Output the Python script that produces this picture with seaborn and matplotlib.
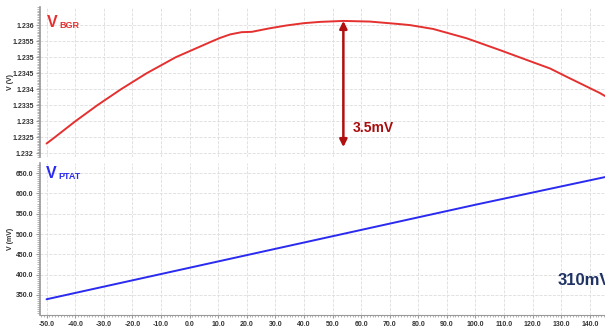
import numpy as np
import pandas as pd
import seaborn as sns
import matplotlib.pyplot as plt
from matplotlib.ticker import MultipleLocator, FormatStrFormatter

# temperature sweep (degC) and values
temp_bgr = [-50, -47.2, -40.0, -32.3, -24.0, -15.0, -4.8, 8.0, 10.66, 14.2, 18.25, 21.75,
            28, 34.0, 40, 45.6, 53.8, 63.1, 73.6, 77.1, 85.2, 96.9, 108.6, 120.2,
            126.05, 131.9, 143.6, 145.3]
v_bgr = [1.23231, 1.2325, 1.2330, 1.2335, 1.2340, 1.2345, 1.2350, 1.2355, 1.23560, 1.23571,
         1.23578, 1.23579, 1.23590, 1.23599, 1.23606, 1.23610, 1.23613, 1.23611, 1.23603,
         1.23600, 1.23588, 1.23559, 1.23522, 1.23484, 1.23465, 1.23439, 1.23388, 1.23379]

temp_ptat = [-50, 0, 50, 100, 145.3]
v_ptat = [339.5, 417.0, 494.5, 572.0, 640.0]

x_ticks = np.arange(-50, 141, 10)
bgr_ticks = [1.232, 1.2325, 1.233, 1.2335, 1.234, 1.2345, 1.235, 1.2355, 1.236]
ptat_ticks = [350, 400, 450, 500, 550, 600, 650]

sns.set_style("white")
plt.rcParams['font.family'] = ['Liberation Sans', 'DejaVu Sans']

fig = plt.figure(figsize=(6.05, 3.27), dpi=100)
ax1 = fig.add_axes([0.0661, 0.5199, 0.9339, 0.4587])
ax2 = fig.add_axes([0.0661, 0.0367, 0.9339, 0.4648])

bgr_df = pd.DataFrame({'T': temp_bgr, 'V': v_bgr})
ptat_df = pd.DataFrame({'T': temp_ptat, 'V': v_ptat})
sns.lineplot(data=bgr_df, x='T', y='V', ax=ax1, color='#e53030', lw=1.4)
sns.lineplot(data=ptat_df, x='T', y='V', ax=ax2, color='#2a2af0', lw=1.4)

for ax in (ax1, ax2):
    ax.set_xlim(-52.3, 145.3)
    ax.set_xticks(x_ticks)
    ax.grid(True, color='#dddddd', ls='--', lw=0.6)
    for s in ('top', 'right', 'bottom'):
        ax.spines[s].set_visible(False)
    ax.spines['left'].set_color('#999999')
    ax.spines['left'].set_linewidth(1.2)
    ax.tick_params(axis='both', which='major', labelsize=5, labelcolor='#333333',
                   length=3, width=0.8, color='#999999', left=True, pad=1.5)
    ax.tick_params(axis='both', which='minor', length=2, width=0.5, color='#999999', left=True)
    ax.set_xlabel('')

ax1.set_ylim(1.231891, 1.236564)
ax1.set_yticks(bgr_ticks)
ax1.set_yticklabels(['%g' % t for t in bgr_ticks])
ax1.yaxis.set_minor_locator(MultipleLocator(0.00005))
ax1.tick_params(axis='x', labelbottom=False, bottom=False)
ax1.set_ylabel('V (V)', fontsize=5, fontweight='bold', color='#333333')
ax1.yaxis.set_label_coords(-0.046, 0.5)

ax2.set_ylim(300.8, 674.6)
ax2.set_yticks(ptat_ticks)
ax2.yaxis.set_major_formatter(FormatStrFormatter('%.1f'))
ax2.yaxis.set_minor_locator(MultipleLocator(5))
ax2.xaxis.set_major_formatter(FormatStrFormatter('%.1f'))
ax2.xaxis.set_minor_locator(MultipleLocator(1))
ax2.tick_params(axis='x', bottom=True, which='major', length=2.5)
ax2.tick_params(axis='x', bottom=True, which='minor', length=1.5)
ax2.spines['bottom'].set_visible(True)
ax2.spines['bottom'].set_color('#999999')
ax2.set_ylabel('V (mV)', fontsize=5, fontweight='bold', color='#333333')
ax2.yaxis.set_label_coords(-0.046, 0.5)

for ax in (ax1, ax2):
    for lab in ax.get_yticklabels() + ax.get_xticklabels():
        lab.set_fontweight('bold')

# curve labels
ax1.text(0.0124, 0.867, 'V', transform=ax1.transAxes, fontsize=11.5, fontweight='bold',
         color='#e53030', va='baseline')
ax1.text(0.035, 0.858, 'BGR', transform=ax1.transAxes, fontsize=6.5, fontweight='bold',
         color='#e53030', va='baseline')
ax2.text(0.0106, 0.901, 'V', transform=ax2.transAxes, fontsize=11.5, fontweight='bold',
         color='#2a2af0', va='baseline')
ax2.text(0.032, 0.893, 'PTAT', transform=ax2.transAxes, fontsize=6.5, fontweight='bold',
         color='#2a2af0', va='baseline')

# 3.5mV spread arrow
ax1.annotate('', xy=(53.8, 1.23613), xytext=(53.8, 1.23220),
             arrowprops=dict(arrowstyle='<|-|>', color='#b01010', lw=1.8, mutation_scale=11,
                             shrinkA=0, shrinkB=0))
ax1.text(57.2, 1.23267, '3.5mV', fontsize=10, fontweight='bold', color='#a80c0c', va='baseline')

ax2.text(128.8, 374.6, '310mV', fontsize=12, fontweight='bold', color='#1f3264', va='baseline',
         clip_on=False)

fig.savefig('out.png', dpi=100)
